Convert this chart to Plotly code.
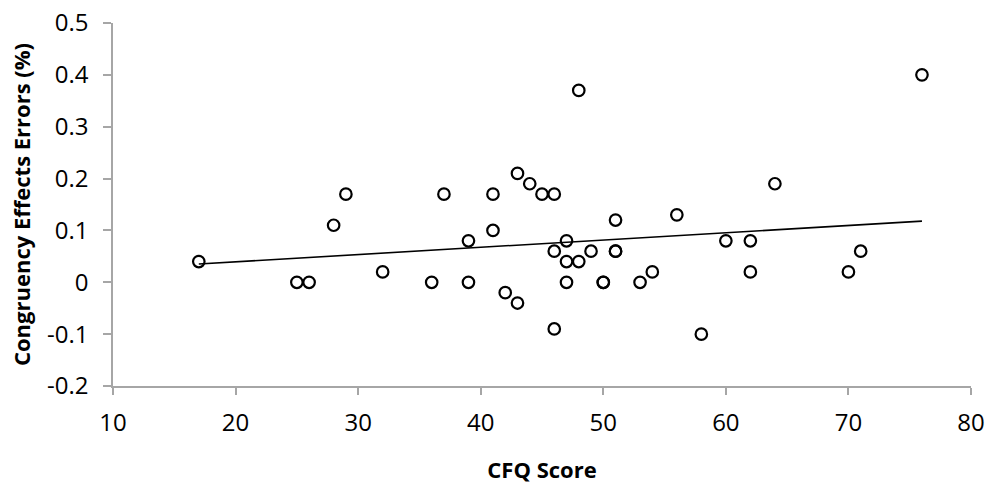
import numpy as np
import plotly.graph_objects as go

cfq = [17, 25, 26, 28, 29, 32, 36, 37, 39, 39, 41, 41, 42, 43, 43, 44, 45, 46, 46, 46,
       47, 47, 47, 48, 48, 49, 50, 50, 51, 51, 51, 53, 54, 56, 58, 60, 62, 62, 64, 70, 71, 76]
errors = [0.04, 0.0, 0.0, 0.11, 0.17, 0.02, 0.0, 0.17, 0.08, 0.0, 0.17, 0.10, -0.02, -0.04, 0.21,
          0.19, 0.17, 0.17, 0.06, -0.09, 0.08, 0.04, 0.0, 0.37, 0.04, 0.06, 0.0, 0.0, 0.12, 0.06,
          0.06, 0.0, 0.02, 0.13, -0.10, 0.08, 0.08, 0.02, 0.19, 0.02, 0.06, 0.40]

x_ticks = [10, 20, 30, 40, 50, 60, 70, 80]
y_ticks = [-0.2, -0.1, 0, 0.1, 0.2, 0.3, 0.4, 0.5]
y_tick_labels = ["-0.2", "-0.1", "0", "0.1", "0.2", "0.3", "0.4", "0.5"]

slope, intercept = np.polyfit(cfq, errors, 1)
trend_x = [min(cfq), max(cfq)]
trend_y = [slope * v + intercept for v in trend_x]

fig = go.Figure()
fig.add_trace(go.Scatter(x=trend_x, y=trend_y, mode="lines",
                         line=dict(color="black", width=1.6), hoverinfo="skip"))
fig.add_trace(go.Scatter(x=cfq, y=errors, mode="markers",
                         marker=dict(symbol="circle-open", size=11.5, color="black",
                                     line=dict(width=2.2, color="black"))))

axis_color = "#a6a6a6"
fig.update_layout(
    width=988, height=484,
    margin=dict(l=113, r=17, t=23, b=98, autoexpand=False),
    paper_bgcolor="white", plot_bgcolor="white",
    showlegend=False,
    font=dict(family="Open Sans", color="black", size=24),
)
fig.update_xaxes(
    range=[10, 80], tickvals=x_ticks, ticktext=[str(v) for v in x_ticks],
    showgrid=False, zeroline=False, showline=True, linecolor=axis_color, linewidth=1.5,
    ticks="outside", ticklen=7, tickcolor=axis_color, tickwidth=1.5,
    ticklabelstandoff=7, automargin=False,
    title=dict(text="<b>CFQ Score</b>", font=dict(size=22), standoff=27),
)
fig.update_yaxes(
    range=[-0.2, 0.5], tickvals=y_ticks, ticktext=y_tick_labels,
    showgrid=False, zeroline=False, showline=True, linecolor=axis_color, linewidth=1.5,
    ticks="outside", ticklen=8, tickcolor=axis_color, tickwidth=1.5,
    ticklabelstandoff=10, automargin=False,
    title=dict(text="<b>Congruency Effects Errors (%)</b>", font=dict(size=22), standoff=10),
)

fig.write_html("out.html", config={"displayModeBar": False},
               post_script="document.body.style.margin='0';document.body.style.overflow='hidden';")
